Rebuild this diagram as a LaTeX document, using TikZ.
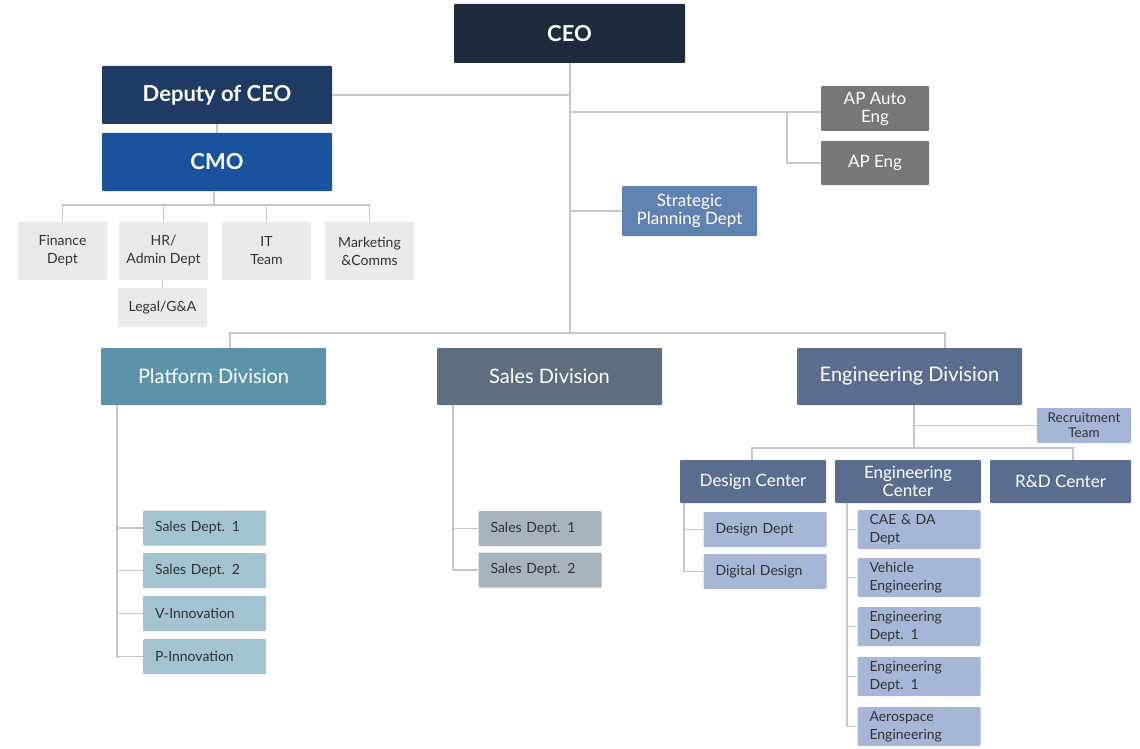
\documentclass[tikz,border=0pt]{standalone}
\usepackage{fontspec}
\setmainfont{Lato}
\definecolor{gray1}{HTML}{E8EAEE}
\definecolor{lncol}{HTML}{C3C8CF}
\definecolor{ceoc}{HTML}{1F2A3C}
\definecolor{depc}{HTML}{1F3A63}
\definecolor{cmoc}{HTML}{1A529E}
\definecolor{apc}{HTML}{777777}
\definecolor{stc}{HTML}{5F82B0}
\definecolor{plc}{HTML}{5B93AB}
\definecolor{slc}{HTML}{5E6E7E}
\definecolor{enc}{HTML}{5A6D8F}
\definecolor{plleaf}{HTML}{A3C3D0}
\definecolor{slleaf}{HTML}{A8B3BD}
\definecolor{enleaf}{HTML}{A6B6D6}
\begin{document}
\begin{tikzpicture}[x=1pt,y=-1pt,
 box/.style={rectangle,rounded corners=1pt,inner sep=0pt,align=center,text=white},
 big/.style={box,minimum width=#1,font=\fontsize{22}{23}\selectfont\bfseries},
 mid/.style={box,minimum width=#1,font=\fontsize{20}{21}\selectfont},
 sm/.style={box,minimum width=#1,font=\fontsize{17}{18}\selectfont},
 staff/.style={box,fill=gray1,text=black!80,minimum width=89,minimum height=58,font=\fontsize{14}{18}\selectfont},
 leaf/.style={box,text=black!80,minimum height=#1,text width=99,align=left,inner xsep=12pt,font=\fontsize{14}{18}\selectfont},
 ln/.style={draw=lncol,line width=1.6pt}]
\useasboundingbox (0,0) rectangle (1140,749);
\coordinate (c1) at (570,63);
\coordinate (c2) at (570,333);
\coordinate (cb) at (214,205);
\coordinate (pv) at (117,658);
\coordinate (sv) at (453,570);
\coordinate (eb) at (914,448);
\coordinate (dv) at (684,572);
\coordinate (ev) at (847,727);
\coordinate (apb) at (787,112);
\coordinate (plt) at (230,348);
\coordinate (ent) at (945,348);
\coordinate (dct) at (752,460);
\coordinate (rdt) at (1073,460);

\node[big=231,minimum height=59,fill=ceoc] (ceo) at (569.5,33.5) {CEO};
\node[big=230,minimum height=58,fill=depc] (dep) at (217,95) {Deputy of CEO};
\node[big=230,minimum height=58,fill=cmoc] (cmo) at (217,162) {CMO};
\node[staff] (fin) at (62.5,251) {Finance\\Dept};
\node[staff] (hr) at (163.5,251) {HR/\\Admin Dept};
\node[staff] (it) at (266.5,251) {IT\\Team};
\node[staff] (mk) at (369.5,251) {Marketing\\\&Comms};
\node[staff,minimum height=39] (lg) at (162.5,307.5) {Legal/G\&A};
\node[sm=108,minimum height=45,fill=apc] (apa) at (875,108.5) {AP Auto\\Eng};
\node[sm=108,minimum height=44,fill=apc] (ape) at (875,163) {AP Eng};
\node[sm=135,minimum height=50,fill=stc] (st) at (689.5,211) {Strategic\\Planning Dept};
\node[mid=225,minimum height=57,fill=plc] (pl) at (213.5,376.5) {Platform Division};
\node[mid=225,minimum height=57,fill=slc] (sl) at (549.5,376.5) {Sales Division};
\node[mid=225,minimum height=57,fill=enc] (en) at (909.5,376.5) {Engineering Division};
\node[box,minimum width=94,minimum height=35,fill=enleaf,text=black!80,font=\fontsize{13.5}{15}\selectfont] (rec) at (1084,425.5) {Recruitment\\Team};
\node[sm=146,minimum height=43,fill=enc] (dc) at (753,481.5) {Design Center};
\node[sm=146,minimum height=43,fill=enc] (ec) at (908,481.5) {Engineering\\Center};
\node[sm=141,minimum height=43,fill=enc] (rd) at (1060.5,481.5) {R\&D Center};
\foreach \n/\y/\t in {p1/528/Sales Dept. 1,p2/570.5/Sales Dept. 2,p3/613.5/V-Innovation,p4/656.5/P-Innovation}
  \node[leaf=35,fill=plleaf] (\n) at (204.5,\y) {\t};
\foreach \n/\y/\t in {s1/528.5/Sales Dept. 1,s2/570/Sales Dept. 2}
  \node[leaf=35,fill=slleaf] (\n) at (540,\y) {\t};
\foreach \n/\y/\t in {d1/529.5/Design Dept,d2/571.5/Digital Design}
  \node[leaf=35,fill=enleaf] (\n) at (765,\y) {\t};
\foreach \n/\y/\t in {e1/529.5/CAE \& DA Dept,e2/577.5/Vehicle\\Engineering,e3/626.5/Engineering\\Dept. 1,e4/676.5/Engineering\\Dept. 1,e5/726.5/Aerospace\\Engineering}
  \node[leaf=39,fill=enleaf] (\n) at (919,\y) {\t};

\draw[ln] (ceo.south -| c1) -- (c2);
\draw[ln] (dep.east) -- (dep.east -| c1);
\draw[ln] (dep) -- (cmo);
\draw[ln] (apa.west |- apb) -- (apb -| c1);
\draw[ln] (apb) |- (ape.west);
\draw[ln] (st.west) -- (st.west -| c1);
\draw[ln] (cmo.south -| cb) -- (cb);
\draw[ln] (fin.north) |- (cb) -| (mk.north);
\draw[ln] (hr.north) -- (hr.north |- cb);
\draw[ln] (it.north) -- (it.north |- cb);
\draw[ln] (hr.south -| lg.north) -- (lg.north);
\draw[ln] (plt) |- (c2) -| (ent);
\draw[ln] (pl.south -| pv) -- (pv);
\foreach \n in {p1,p2,p3,p4} \draw[ln] (\n.west) -- (\n.west -| pv);
\draw[ln] (sl.south -| sv) -- (sv);
\foreach \n in {s1,s2} \draw[ln] (\n.west) -- (\n.west -| sv);
\draw[ln] (en.south -| eb) -- (eb);
\draw[ln] (rec.west) -- (rec.west -| eb);
\draw[ln] (dct) |- (eb) -| (rdt);
\draw[ln] (dc.south -| dv) -- (dv);
\foreach \n in {d1,d2} \draw[ln] (\n.west) -- (\n.west -| dv);
\draw[ln] (ec.south -| ev) -- (ev);
\foreach \n in {e1,e2,e3,e4,e5} \draw[ln] (\n.west) -- (\n.west -| ev);
\end{tikzpicture}
\end{document}
